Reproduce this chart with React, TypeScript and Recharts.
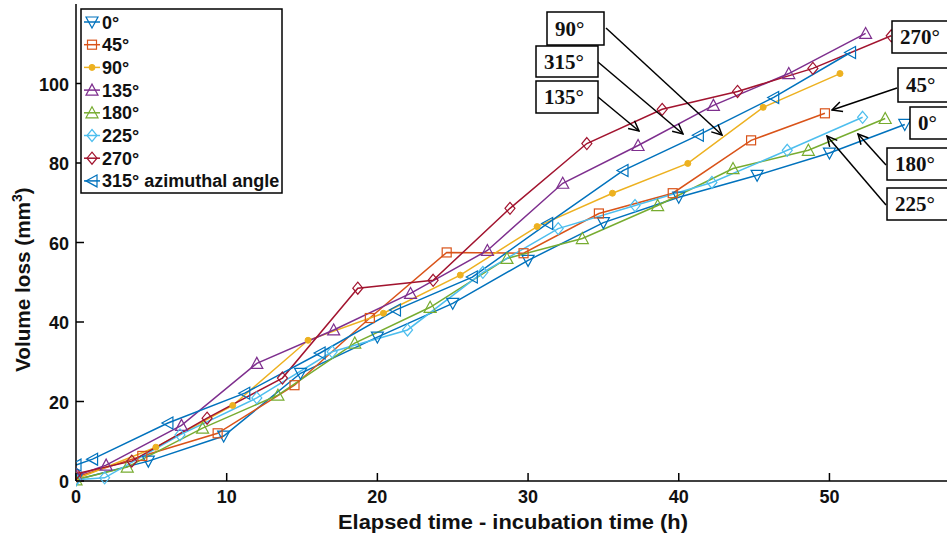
import React from 'react'
import { LineChart, Line, XAxis, YAxis } from 'recharts'

// elapsed time (h) and volume loss (mm3) per azimuthal angle
const t0 = [0, 4.8, 9.8, 14.9, 20.0, 25.0, 30.0, 35.0, 40.0, 45.2, 50.0, 55.0]
const v0 = [0.3, 5.0, 11.3, 27.1, 36.2, 44.7, 55.5, 65.0, 71.4, 76.9, 82.5, 89.7]
const t45 = [0, 4.4, 9.4, 14.5, 19.5, 24.6, 29.7, 34.7, 39.6, 44.8, 49.7]
const v45 = [1.0, 6.3, 12.0, 24.1, 41.0, 57.5, 57.3, 67.3, 72.4, 85.7, 92.5]
const t90 = [0, 5.3, 10.4, 15.4, 20.4, 25.5, 30.6, 35.6, 40.6, 45.6, 50.7]
const v90 = [0.5, 8.5, 19.0, 35.4, 42.2, 51.8, 64.0, 72.4, 79.9, 94.0, 102.5]
const t135 = [0, 2.0, 7.0, 12.0, 17.1, 22.2, 27.3, 32.3, 37.3, 42.3, 47.3, 52.4]
const v135 = [1.3, 4.0, 14.0, 29.6, 38.0, 47.2, 58.0, 74.9, 84.4, 94.5, 102.5, 112.6]
const t180 = [0, 3.4, 8.4, 13.4, 18.5, 23.5, 28.6, 33.6, 38.6, 43.6, 48.6, 53.7]
const v180 = [0.3, 3.5, 13.3, 21.6, 34.7, 43.7, 56.0, 61.0, 69.3, 78.6, 83.2, 91.2]
const t225 = [0, 1.9, 6.9, 12.0, 17.0, 22.0, 27.0, 32.0, 37.1, 42.2, 47.2, 52.2]
const v225 = [0.3, 0.8, 11.6, 20.9, 32.5, 38.0, 52.5, 63.5, 69.3, 75.1, 83.2, 91.5]
const t270 = [0, 3.7, 8.7, 13.7, 18.7, 23.7, 28.8, 33.9, 38.9, 43.9, 48.9, 54.1]
const v270 = [1.8, 5.0, 15.8, 25.9, 48.5, 50.5, 68.6, 84.9, 93.5, 98.0, 103.8, 112.0]
const t315 = [0, 1.1, 6.1, 11.2, 16.2, 21.2, 26.3, 31.3, 36.3, 41.3, 46.3, 51.4]
const v315 = [4.0, 5.5, 14.6, 22.1, 32.2, 43.0, 51.3, 64.8, 78.1, 87.0, 96.5, 107.8]

const xTicks = [0, 10, 20, 30, 40, 50]
const yTicks = [0, 20, 40, 60, 80, 100]

type Shape = 'down' | 'square' | 'dot' | 'up' | 'diamond' | 'left'

const series: { name: string; t: number[]; v: number[]; color: string; shape: Shape }[] = [
  { name: '0°', t: t0, v: v0, color: '#0072BD', shape: 'down' },
  { name: '45°', t: t45, v: v45, color: '#D95319', shape: 'square' },
  { name: '90°', t: t90, v: v90, color: '#EDB120', shape: 'dot' },
  { name: '135°', t: t135, v: v135, color: '#7E2F8E', shape: 'up' },
  { name: '180°', t: t180, v: v180, color: '#77AC30', shape: 'up' },
  { name: '225°', t: t225, v: v225, color: '#4DBEEE', shape: 'diamond' },
  { name: '270°', t: t270, v: v270, color: '#A2142F', shape: 'diamond' },
  { name: '315° azimuthal angle', t: t315, v: v315, color: '#0072BD', shape: 'left' },
]

const sans = "'Liberation Sans', Arial, sans-serif"
const serif = "'Liberation Serif', 'Times New Roman', serif"

function Mark({ cx, cy, shape, color }: { cx: number; cy: number; shape: Shape; color: string }) {
  const common = { fill: 'none', stroke: color, strokeWidth: 1.2 }
  if (shape === 'dot') return <circle cx={cx} cy={cy} r={3} fill={color} stroke={color} />
  if (shape === 'square') return <rect x={cx - 4.5} y={cy - 4.5} width={9} height={9} {...common} />
  let pts = ''
  if (shape === 'down') pts = `${cx - 6},${cy - 5} ${cx + 6},${cy - 5} ${cx},${cy + 6}`
  if (shape === 'up') pts = `${cx - 6},${cy + 5} ${cx + 6},${cy + 5} ${cx},${cy - 6}`
  if (shape === 'left') pts = `${cx + 5},${cy - 6} ${cx + 5},${cy + 6} ${cx - 6},${cy}`
  if (shape === 'diamond') pts = `${cx},${cy - 6} ${cx + 5},${cy} ${cx},${cy + 6} ${cx - 5},${cy}`
  return <polygon points={pts} {...common} />
}

const BottomTick = (props: any) => {
  const { x, y, payload } = props
  return (
    <g>
      <line x1={x} x2={x} y1={y} y2={y - 8} stroke="#000" strokeWidth={1.5} />
      <text x={x} y={y + 22} textAnchor="middle" fontFamily={sans} fontWeight="bold" fontSize={18} fill="#111">
        {payload.value}
      </text>
    </g>
  )
}

const TopTick = (props: any) => {
  const { x, y } = props
  return <line x1={x} x2={x} y1={y} y2={y + 8} stroke="#000" strokeWidth={1.5} />
}

const LeftTick = (props: any) => {
  const { x, y, payload } = props
  return (
    <g>
      <line x1={x} x2={x + 8} y1={y} y2={y} stroke="#000" strokeWidth={1.5} />
      <text x={x - 7} y={y + 7} textAnchor="end" fontFamily={sans} fontWeight="bold" fontSize={18} fill="#111">
        {payload.value}
      </text>
    </g>
  )
}

const boxes = [
  { label: '90°', x: 547, y: 12, w: 57, h: 33 },
  { label: '315°', x: 536, y: 46, w: 62, h: 31 },
  { label: '135°', x: 536, y: 81, w: 62, h: 32 },
  { label: '270°', x: 892, y: 21, w: 60, h: 32 },
  { label: '45°', x: 898, y: 68, w: 55, h: 34 },
  { label: '0°', x: 910, y: 107, w: 45, h: 32 },
  { label: '180°', x: 887, y: 148, w: 65, h: 32 },
  { label: '225°', x: 887, y: 188, w: 65, h: 32 },
]

const arrows = [
  [606, 28, 722, 135],
  [598, 62, 683, 134],
  [598, 97, 639, 131],
  [897, 88, 832, 110],
  [886, 165, 858, 134],
  [886, 205, 827, 136],
]

export default function App() {
  return (
    <div style={{ position: 'absolute', left: 0, top: 0, width: 947, height: 542, background: '#fff', overflow: 'hidden' }}>
      <LineChart width={950} height={542} margin={{ top: 4, right: 0, bottom: 0, left: 0 }}>
        <XAxis
          dataKey="t"
          type="number"
          domain={[0, 58]}
          ticks={xTicks}
          height={61}
          tickSize={0}
          tickMargin={0}
          tickLine={false}
          axisLine={{ stroke: '#000', strokeWidth: 1.5 }}
          tick={<BottomTick />}
          allowDataOverflow
        />
        <XAxis
          xAxisId="top"
          orientation="top"
          type="number"
          domain={[0, 58]}
          ticks={xTicks}
          height={0}
          tickSize={0}
          tickMargin={0}
          tickLine={false}
          axisLine={{ stroke: '#000', strokeWidth: 1.5 }}
          tick={<TopTick />}
        />
        <YAxis
          type="number"
          domain={[0, 120]}
          ticks={yTicks}
          width={76}
          tickSize={0}
          tickMargin={0}
          tickLine={false}
          axisLine={{ stroke: '#000', strokeWidth: 1.5 }}
          tick={<LeftTick />}
        />
        {series.map((s) => (
          <Line
            key={s.name}
            data={s.t.map((t, i) => ({ t, v: s.v[i] }))}
            dataKey="v"
            stroke={s.color}
            strokeWidth={1.5}
            isAnimationActive={false}
            dot={(p: any) => <Mark key={`${s.name}-${p.index}`} cx={p.cx} cy={p.cy} shape={s.shape} color={s.color} />}
            activeDot={false}
          />
        ))}
      </LineChart>
      <svg width={947} height={542} style={{ position: 'absolute', left: 0, top: 0, pointerEvents: 'none' }}>
        <defs>
          <marker id="arr" viewBox="0 0 12 12" refX={11} refY={6} markerWidth={12} markerHeight={12} orient="auto" markerUnits="userSpaceOnUse">
            <path d="M1,1 L11,6 L1,11" fill="none" stroke="#000" strokeWidth={1.5} />
          </marker>
        </defs>
        <rect x={81} y={9} width={201} height={184} fill="#fff" stroke="#000" strokeWidth={1.5} />
        {series.map((s, i) => {
          const cy = 22 + i * 22.7
          return (
            <g key={s.name}>
              <line x1={84} x2={100} y1={cy} y2={cy} stroke={s.color} strokeWidth={1.5} />
              <Mark cx={92} cy={cy} shape={s.shape} color={s.color} />
              <text x={102} y={cy + 6.5} fontFamily={sans} fontWeight="bold" fontSize={18} fill="#111">
                {s.name}
              </text>
            </g>
          )
        })}
        <text x={338} y={529} textLength={350} lengthAdjust="spacingAndGlyphs" fontFamily={sans} fontWeight="bold" fontSize={20} fill="#111">
          Elapsed time - incubation time (h)
        </text>
        <text transform="translate(30,372) rotate(-90)" fontFamily={sans} fontWeight="bold" fontSize={20} fill="#111">
          <tspan textLength={170} lengthAdjust="spacingAndGlyphs">Volume loss (mm</tspan>
          <tspan dy={-8} fontSize={14}>3</tspan>
          <tspan dy={8}>)</tspan>
        </text>
        {arrows.map(([x1, y1, x2, y2], i) => (
          <line key={i} x1={x1} y1={y1} x2={x2} y2={y2} stroke="#000" strokeWidth={1.5} markerEnd="url(#arr)" />
        ))}
        {boxes.map((b) => (
          <g key={b.label}>
            <rect x={b.x} y={b.y} width={b.w} height={b.h} fill="#fff" stroke="#000" strokeWidth={1.5} />
            <text x={b.x + 8} y={b.y + b.h / 2 + 7} fontFamily={serif} fontWeight="bold" fontSize={21} fill="#111">
              {b.label}
            </text>
          </g>
        ))}
      </svg>
    </div>
  )
}
